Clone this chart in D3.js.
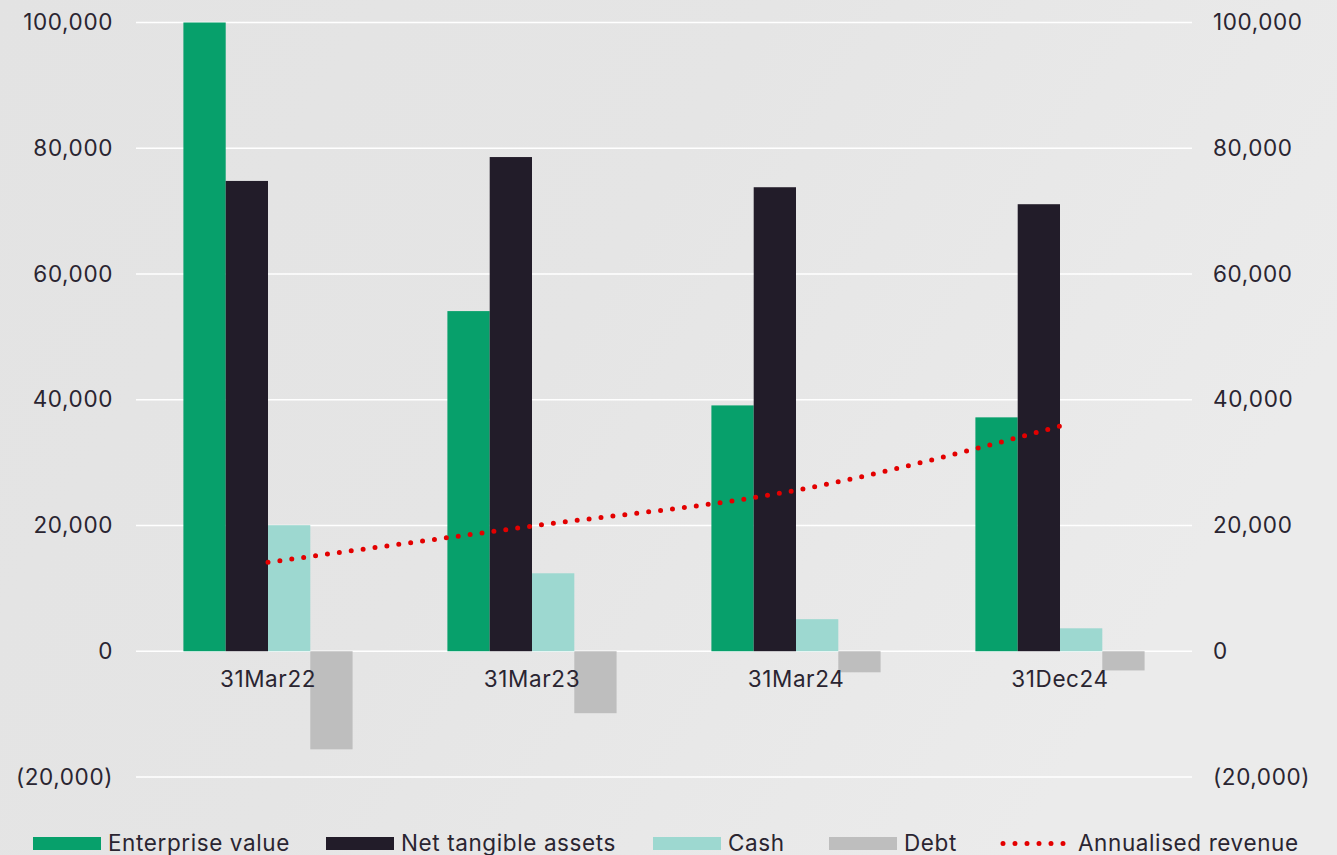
<!DOCTYPE html>
<html>
<head>
<meta charset="utf-8">
<script src="https://cdnjs.cloudflare.com/ajax/libs/d3/7.8.5/d3.min.js"></script>
<style>
  html, body { margin: 0; padding: 0; background: #e6e6e6; }
  text { font-family: Inter, "Open Sans", sans-serif; fill: #2a2531; letter-spacing: 0.6px; }
</style>
</head>
<body>
<script>
var categories = ["31Mar22", "31Mar23", "31Mar24", "31Dec24"];
var enterprise_value = [100000, 54100, 39100, 37200];
var net_tangible     = [74800, 78600, 73800, 71100];
var cash             = [20050, 12400, 5100, 3650];
var debt             = [-15600, -9850, -3350, -3050];
var revenue          = [14150, 19900, 25600, 35800];
var y_ticks          = [-20000, 0, 20000, 40000, 60000, 80000, 100000];

var series_names  = ["Enterprise value", "Net tangible assets", "Cash", "Debt"];
var series_values = [enterprise_value, net_tangible, cash, debt];
var series_cols   = ["#07a06b", "#221c29", "#9dd8d0", "#bebebe"];

var width = 1337, height = 855;
var fsize = 22.5;

var svg = d3.select("body").append("svg")
                           .attr("width", width)
                           .attr("height", height);

// background, a soft grey wash in place of the leaf photo
var defs = svg.append("defs");
var grad = defs.append("linearGradient").attr("id", "bg")
               .attr("x1", "0").attr("y1", "0").attr("x2", "1").attr("y2", "0.4");
grad.append("stop").attr("offset", "0").attr("stop-color", "#e3e3e3");
grad.append("stop").attr("offset", "0.5").attr("stop-color", "#e5e5e5");
grad.append("stop").attr("offset", "1").attr("stop-color", "#ebebeb");
svg.append("rect").attr("width", width).attr("height", height).attr("fill", "url(#bg)");

var x = d3.scaleBand().domain(categories).range([136, 1192]);
var y = d3.scaleLinear().domain([-20000, 100000]).range([777, 22.5]);

var barW = 42.3;
var fmt = function(v) {
    var s = d3.format(",")(Math.abs(v));
    return v < 0 ? "(" + s + ")" : s;
};

// gridlines
svg.append("g").selectAll("line")
   .data(y_ticks).enter().append("line")
   .attr("x1", 136).attr("x2", 1192)
   .attr("y1", function(d) { return y(d); })
   .attr("y2", function(d) { return y(d); })
   .attr("stroke", "#ffffff")
   .attr("stroke-width", 1.6);

// bars
series_values.forEach(function(vals, s) {
    svg.append("g").selectAll("rect")
       .data(vals).enter().append("rect")
       .attr("x", function(d, i) { return x(categories[i]) + x.bandwidth() / 2 - 2 * barW + s * barW; })
       .attr("width", barW)
       .attr("y", function(d) { return Math.min(y(d), y(0)); })
       .attr("height", function(d) { return Math.abs(y(d) - y(0)); })
       .attr("fill", series_cols[s]);
});

// left and right axis labels
var yl = svg.append("g").attr("transform", "translate(113,0)")
            .call(d3.axisLeft(y).tickValues(y_ticks).tickFormat(fmt).tickSize(0).tickPadding(0));
var yr = svg.append("g").attr("transform", "translate(1213,0)")
            .call(d3.axisRight(y).tickValues(y_ticks).tickFormat(fmt).tickSize(0).tickPadding(0));
[yl, yr].forEach(function(g) {
    g.select(".domain").remove();
    g.selectAll("text").attr("font-size", fsize).attr("font-family", null).attr("fill", "#2a2531");
});

// category labels
var xa = svg.append("g").attr("transform", "translate(0," + y(0) + ")")
            .call(d3.axisBottom(x).tickSize(0).tickPadding(20));
xa.select(".domain").remove();
xa.selectAll("text").attr("font-size", fsize).attr("font-family", null).attr("fill", "#2a2531");

// revenue line
var line = d3.line()
             .x(function(d, i) { return x(categories[i]) + x.bandwidth() / 2; })
             .y(function(d) { return y(d); })
             .curve(d3.curveMonotoneX);
svg.append("path")
   .datum(revenue)
   .attr("d", line)
   .attr("fill", "none")
   .attr("stroke", "#e30000")
   .attr("stroke-width", 5)
   .attr("stroke-linecap", "round")
   .attr("stroke-dasharray", "0 12");

// legend
var legend_x = [33, 326, 653, 829];
var leg = svg.append("g");
series_names.forEach(function(n, s) {
    leg.append("rect").attr("x", legend_x[s]).attr("y", 837).attr("width", 68).attr("height", 13)
       .attr("fill", series_cols[s]);
    leg.append("text").attr("x", legend_x[s] + 75).attr("y", 843.5)
       .attr("dy", "0.35em").attr("font-size", fsize).text(n);
});
leg.append("line").attr("x1", 1003).attr("x2", 1064).attr("y1", 843.5).attr("y2", 843.5)
   .attr("stroke", "#e30000").attr("stroke-width", 5)
   .attr("stroke-linecap", "round").attr("stroke-dasharray", "0 12");
leg.append("text").attr("x", 1078).attr("y", 843.5).attr("dy", "0.35em")
   .attr("font-size", fsize).text("Annualised revenue");
</script>
</body>
</html>
